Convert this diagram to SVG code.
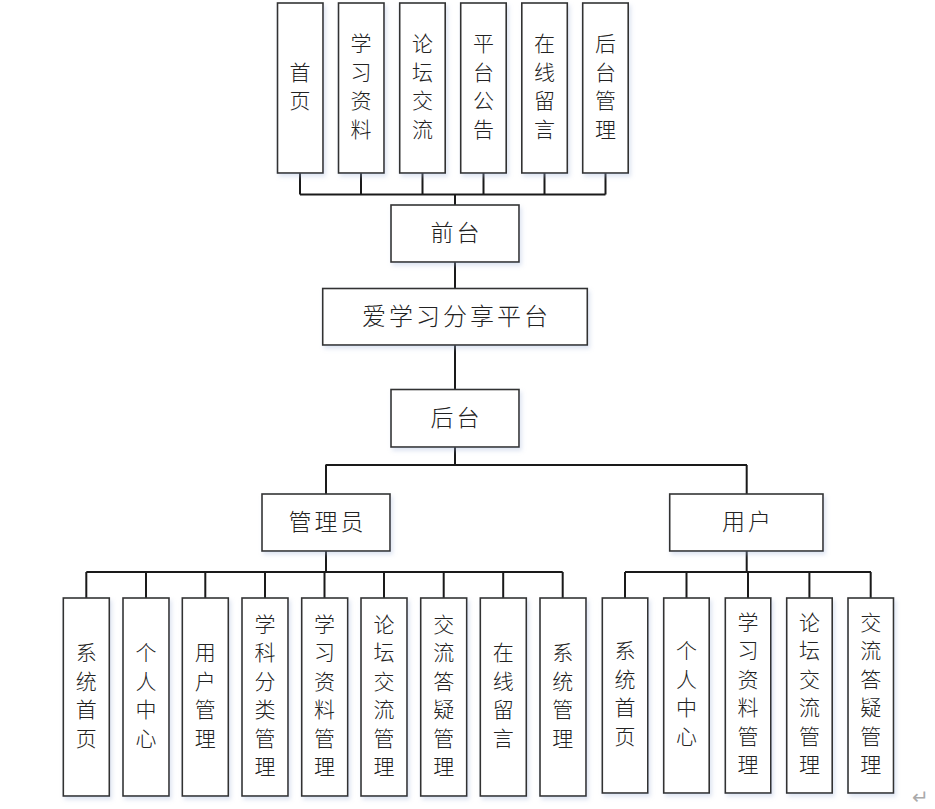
<svg xmlns="http://www.w3.org/2000/svg" width="935" height="809" viewBox="0 0 935 809">
<defs>
<filter id="sh" x="-20%" y="-20%" width="140%" height="140%">
<feDropShadow dx="2" dy="3" stdDeviation="2" flood-color="#9fb4d8" flood-opacity="0.35"/>
</filter>
</defs>
<style>
.box{fill:#fff;stroke:#333;stroke-width:1.6;filter:url(#sh)}
.ln{fill:none;stroke:#1a1a1a;stroke-width:2}
text{font-family:"Noto Sans CJK SC","Noto Sans",sans-serif;fill:#222;font-weight:300}
.v{font-size:21px;text-anchor:middle;dominant-baseline:central;transform:translate(0px,-3px)}
.h{font-size:23px;text-anchor:middle;dominant-baseline:central;letter-spacing:3px;transform:translate(0px,-2px)}
.t{font-size:24px;text-anchor:middle;dominant-baseline:central;letter-spacing:3px;transform:translate(0px,-2px)}
</style>
<rect width="935" height="809" fill="#fff"/>
<g id="connectors">
<path class="ln" d="M300,173V194.5M361,173V194.5M422.5,173V194.5M483.5,173V194.5M544.5,173V194.5M605.5,173V194.5M300,194.5H605.5M455,194.5V205"/>
<path class="ln" d="M455,262V288.5M455,345V389.5M455,447V465M325.5,465H747M326,465V494M746.7,465V494"/>
<path class="ln" d="M326,551V572M86.3,572H562.7M86.3,572V598M146,572V598M205.3,572V598M265,572V598M324.5,572V598M384,572V598M443.7,572V598M503.2,572V598M562.7,572V598"/>
<path class="ln" d="M746.7,551V572M625,572H871M625,572V598M686.5,572V598M748,572V598M809.4,572V598M870.7,572V598"/>
</g>
<g id="n-top1"><rect class="box" x="277.5" y="3" width="45.5" height="170"/><text class="v"><tspan x="300" y="73.7">首</tspan><tspan x="300" y="102.3">页</tspan></text></g>
<g id="n-top2"><rect class="box" x="338.5" y="3" width="45.5" height="170"/><text class="v"><tspan x="361" y="45">学</tspan><tspan x="361" y="73.5">习</tspan><tspan x="361" y="102">资</tspan><tspan x="361" y="130.5">料</tspan></text></g>
<g id="n-top3"><rect class="box" x="399.7" y="3" width="45.5" height="170"/><text class="v"><tspan x="422.5" y="45">论</tspan><tspan x="422.5" y="73.5">坛</tspan><tspan x="422.5" y="102">交</tspan><tspan x="422.5" y="130.5">流</tspan></text></g>
<g id="n-top4"><rect class="box" x="460.7" y="3" width="45.5" height="170"/><text class="v"><tspan x="483.5" y="45">平</tspan><tspan x="483.5" y="73.5">台</tspan><tspan x="483.5" y="102">公</tspan><tspan x="483.5" y="130.5">告</tspan></text></g>
<g id="n-top5"><rect class="box" x="521.8" y="3" width="45.5" height="170"/><text class="v"><tspan x="544.5" y="45">在</tspan><tspan x="544.5" y="73.5">线</tspan><tspan x="544.5" y="102">留</tspan><tspan x="544.5" y="130.5">言</tspan></text></g>
<g id="n-top6"><rect class="box" x="582.7" y="3" width="45.5" height="170"/><text class="v"><tspan x="605.5" y="45">后</tspan><tspan x="605.5" y="73.5">台</tspan><tspan x="605.5" y="102">管</tspan><tspan x="605.5" y="130.5">理</tspan></text></g>
<g id="n-front"><rect class="box" x="391" y="205" width="128" height="57"/><text class="h" x="456.5" y="233">前台</text></g>
<g id="n-platform"><rect class="box" x="322.7" y="288.5" width="264.6" height="56.5"/><text class="t" x="456.5" y="316.5">爱学习分享平台</text></g>
<g id="n-back"><rect class="box" x="391" y="389.5" width="128" height="57.5"/><text class="h" x="456.5" y="418">后台</text></g>
<g id="n-admin"><rect class="box" x="262" y="494" width="128" height="57"/><text class="h" x="327.5" y="522">管理员</text></g>
<g id="n-user"><rect class="box" x="669.7" y="494" width="153.3" height="57"/><text class="h" x="748" y="522">用户</text></g>
<g id="n-a1"><rect class="box" x="63.3" y="598" width="46" height="198"/><text class="v"><tspan x="86.3" y="654">系</tspan><tspan x="86.3" y="682.5">统</tspan><tspan x="86.3" y="711">首</tspan><tspan x="86.3" y="739.5">页</tspan></text></g>
<g id="n-a2"><rect class="box" x="123" y="598" width="46" height="198"/><text class="v"><tspan x="146" y="654">个</tspan><tspan x="146" y="682.5">人</tspan><tspan x="146" y="711">中</tspan><tspan x="146" y="739.5">心</tspan></text></g>
<g id="n-a3"><rect class="box" x="182.3" y="598" width="46" height="198"/><text class="v"><tspan x="205.3" y="654">用</tspan><tspan x="205.3" y="682.5">户</tspan><tspan x="205.3" y="711">管</tspan><tspan x="205.3" y="739.5">理</tspan></text></g>
<g id="n-a4"><rect class="box" x="242" y="598" width="46" height="198"/><text class="v"><tspan x="265" y="625.8">学</tspan><tspan x="265" y="654.3">科</tspan><tspan x="265" y="682.8">分</tspan><tspan x="265" y="711.3">类</tspan><tspan x="265" y="739.8">管</tspan><tspan x="265" y="768.3">理</tspan></text></g>
<g id="n-a5"><rect class="box" x="301.7" y="598" width="46" height="198"/><text class="v"><tspan x="324.5" y="625.8">学</tspan><tspan x="324.5" y="654.3">习</tspan><tspan x="324.5" y="682.8">资</tspan><tspan x="324.5" y="711.3">料</tspan><tspan x="324.5" y="739.8">管</tspan><tspan x="324.5" y="768.3">理</tspan></text></g>
<g id="n-a6"><rect class="box" x="361" y="598" width="46" height="198"/><text class="v"><tspan x="384" y="625.8">论</tspan><tspan x="384" y="654.3">坛</tspan><tspan x="384" y="682.8">交</tspan><tspan x="384" y="711.3">流</tspan><tspan x="384" y="739.8">管</tspan><tspan x="384" y="768.3">理</tspan></text></g>
<g id="n-a7"><rect class="box" x="420.7" y="598" width="46" height="198"/><text class="v"><tspan x="443.7" y="625.8">交</tspan><tspan x="443.7" y="654.3">流</tspan><tspan x="443.7" y="682.8">答</tspan><tspan x="443.7" y="711.3">疑</tspan><tspan x="443.7" y="739.8">管</tspan><tspan x="443.7" y="768.3">理</tspan></text></g>
<g id="n-a8"><rect class="box" x="480.3" y="598" width="46" height="198"/><text class="v"><tspan x="503.2" y="654">在</tspan><tspan x="503.2" y="682.5">线</tspan><tspan x="503.2" y="711">留</tspan><tspan x="503.2" y="739.5">言</tspan></text></g>
<g id="n-a9"><rect class="box" x="540" y="598" width="46" height="198"/><text class="v"><tspan x="562.7" y="654">系</tspan><tspan x="562.7" y="682.5">统</tspan><tspan x="562.7" y="711">管</tspan><tspan x="562.7" y="739.5">理</tspan></text></g>
<g id="n-u1"><rect class="box" x="602.3" y="598" width="45.5" height="195"/><text class="v"><tspan x="625" y="652">系</tspan><tspan x="625" y="680.5">统</tspan><tspan x="625" y="709">首</tspan><tspan x="625" y="737.5">页</tspan></text></g>
<g id="n-u2"><rect class="box" x="663.7" y="598" width="45.5" height="195"/><text class="v"><tspan x="686.5" y="652">个</tspan><tspan x="686.5" y="680.5">人</tspan><tspan x="686.5" y="709">中</tspan><tspan x="686.5" y="737.5">心</tspan></text></g>
<g id="n-u3"><rect class="box" x="725.3" y="598" width="45.5" height="195"/><text class="v"><tspan x="748" y="623.8">学</tspan><tspan x="748" y="652.3">习</tspan><tspan x="748" y="680.8">资</tspan><tspan x="748" y="709.3">料</tspan><tspan x="748" y="737.8">管</tspan><tspan x="748" y="766.3">理</tspan></text></g>
<g id="n-u4"><rect class="box" x="786.7" y="598" width="45.5" height="195"/><text class="v"><tspan x="809.4" y="623.8">论</tspan><tspan x="809.4" y="652.3">坛</tspan><tspan x="809.4" y="680.8">交</tspan><tspan x="809.4" y="709.3">流</tspan><tspan x="809.4" y="737.8">管</tspan><tspan x="809.4" y="766.3">理</tspan></text></g>
<g id="n-u5"><rect class="box" x="848" y="598" width="45.5" height="195"/><text class="v"><tspan x="870.7" y="623.8">交</tspan><tspan x="870.7" y="652.3">流</tspan><tspan x="870.7" y="680.8">答</tspan><tspan x="870.7" y="709.3">疑</tspan><tspan x="870.7" y="737.8">管</tspan><tspan x="870.7" y="766.3">理</tspan></text></g>
<text x="920" y="797" font-size="20" text-anchor="middle" dominant-baseline="central" style="fill:#aaa;font-family:'DejaVu Sans',sans-serif">↵</text>
</svg>
